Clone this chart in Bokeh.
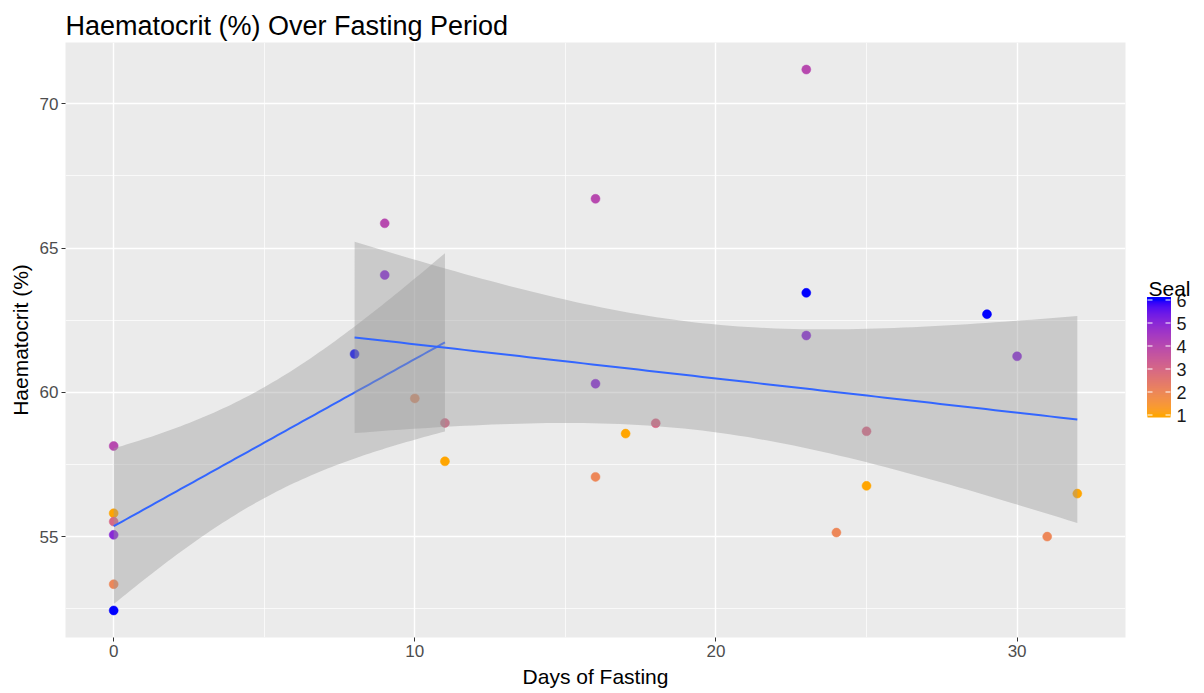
import numpy as np
from bokeh.plotting import figure
from bokeh.layouts import row
from bokeh.models import Range1d, FixedTicker, ColumnDataSource
from bokeh.core.properties import value
from bokeh.embed import file_html
from bokeh.resources import INLINE

# ---------------- data ----------------
days = [0, 0, 0, 0, 0, 0,
        8, 9, 9, 10, 11, 11,
        16, 16, 16, 17, 18,
        23, 23, 23, 24, 25, 25,
        29, 30, 31, 32]
haematocrit = [58.14, 55.81, 55.52, 55.06, 53.35, 52.44,
               61.33, 65.86, 64.07, 59.79, 58.94, 57.61,
               66.71, 60.30, 57.07, 58.57, 58.93,
               71.19, 63.45, 61.97, 55.14, 58.65, 56.76,
               62.71, 61.25, 55.00, 56.49]
seal = [4, 1, 3, 5, 2, 6,
        6, 4, 5, 2, 3, 1,
        4, 5, 2, 1, 3,
        4, 6, 5, 2, 3, 1,
        6, 5, 2, 1]
seal_ticks = [1, 2, 3, 4, 5, 6]
x_ticks = [0, 10, 20, 30]
y_ticks = [55, 60, 65, 70]
title_text = "Haematocrit (%) Over Fasting Period"
x_label = "Days of Fasting"
y_label = "Haematocrit (%)"
legend_title = "Seal"

FONT = "Liberation Sans"

# ---------------- colour scale: orange -> blue in Lab ----------------
def _hex_to_rgb(h):
    h = h.lstrip("#")
    return np.array([int(h[i:i + 2], 16) / 255 for i in (0, 2, 4)])

def _rgb_to_lab(rgb):
    c = np.where(rgb <= 0.04045, rgb / 12.92, ((rgb + 0.055) / 1.055) ** 2.4)
    M = np.array([[0.4124564, 0.3575761, 0.1804375],
                  [0.2126729, 0.7151522, 0.0721750],
                  [0.0193339, 0.1191920, 0.9503041]])
    xyz = M @ c / np.array([0.95047, 1.0, 1.08883])
    f = np.where(xyz > 216 / 24389, np.cbrt(xyz), (24389 / 27 * xyz + 16) / 116)
    return np.array([116 * f[1] - 16, 500 * (f[0] - f[1]), 200 * (f[1] - f[2])])

def _lab_to_hex(lab):
    L, a, b = lab
    fy = (L + 16) / 116
    fx = fy + a / 500
    fz = fy - b / 200
    def finv(t):
        return t ** 3 if t ** 3 > 216 / 24389 else (116 * t - 16) / (24389 / 27)
    xyz = np.array([finv(fx), finv(fy), finv(fz)]) * np.array([0.95047, 1.0, 1.08883])
    Minv = np.array([[3.2404542, -1.5371385, -0.4985314],
                     [-0.9692660, 1.8760108, 0.0415560],
                     [0.0556434, -0.2040259, 1.0572252]])
    c = Minv @ xyz
    c = np.clip(c, 0, 1)
    rgb = np.where(c <= 0.0031308, 12.92 * c, 1.055 * c ** (1 / 2.4) - 0.055)
    rgb = np.clip(np.round(rgb * 255), 0, 255).astype(int)
    return "#%02x%02x%02x" % tuple(rgb)

LOW_LAB = _rgb_to_lab(_hex_to_rgb("#FFA500"))
HIGH_LAB = _rgb_to_lab(_hex_to_rgb("#0000FF"))
SEAL_LO, SEAL_HI = min(seal_ticks), max(seal_ticks)

def seal_colour(v):
    t = (v - SEAL_LO) / (SEAL_HI - SEAL_LO)
    return _lab_to_hex(LOW_LAB + t * (HIGH_LAB - LOW_LAB))

# ---------------- fits ----------------
dx = np.array(days, dtype=float)
hy = np.array(haematocrit, dtype=float)

T_CRIT = {10: 2.228139, 19: 2.093024}

def lm_fit(mask):
    x, y = dx[mask], hy[mask]
    n = len(x)
    b, a = np.polyfit(x, y, 1)
    res = y - (a + b * x)
    s = np.sqrt(np.sum(res ** 2) / (n - 2))
    mx = x.mean()
    sxx = np.sum((x - mx) ** 2)
    xs = np.linspace(x.min(), x.max(), 80)
    fit = a + b * xs
    se = s * np.sqrt(1 / n + (xs - mx) ** 2 / sxx)
    t = T_CRIT[n - 2]
    return xs, fit, fit - t * se, fit + t * se

fits = [lm_fit(dx <= 11), lm_fit(dx > 0)]

all_y = np.concatenate([hy] + [f[2] for f in fits] + [f[3] for f in fits])
ylo, yhi = all_y.min(), all_y.max()
xlo, xhi = dx.min(), dx.max()
xpad = 0.05 * (xhi - xlo)
ypad = 0.05 * (yhi - ylo)

# ---------------- main figure ----------------
W_MAIN, W_LEG, H = 1135, 69, 693
TOP_B, BOT_B = 42, 56
p = figure(width=W_MAIN, height=H, output_backend="svg", toolbar_location=None,
           x_range=Range1d(xlo - xpad, xhi + xpad), y_range=Range1d(ylo - ypad, yhi + ypad),
           min_border_left=65, min_border_right=10, min_border_top=TOP_B, min_border_bottom=BOT_B)

p.background_fill_color = "#EBEBEB"
p.border_fill_color = "white"
p.outline_line_color = None

p.title.text = title_text
p.title.text_font = FONT
p.title.text_font_size = "27px"
p.title.text_font_style = "normal"
p.title.text_color = "black"
p.title.offset = 0
p.title.standoff = 4

p.xaxis.ticker = FixedTicker(ticks=x_ticks, minor_ticks=[-5, 5, 15, 25, 35])
p.yaxis.ticker = FixedTicker(ticks=y_ticks, minor_ticks=[52.5, 57.5, 62.5, 67.5])
for ax in (p.xaxis, p.yaxis):
    ax.axis_line_color = None
    ax.major_tick_line_color = "#333333"
    ax.major_tick_out = 4
    ax.major_tick_in = 0
    ax.minor_tick_line_color = None
    ax.major_label_text_font = FONT
    ax.major_label_text_font_size = "17px"
    ax.major_label_text_color = "#4D4D4D"
    ax.major_label_standoff = 3
    ax.axis_label_text_font = FONT
    ax.axis_label_text_font_size = "21px"
    ax.axis_label_text_font_style = "normal"
    ax.axis_label_text_color = "black"
    ax.axis_label_standoff = 5
p.xaxis.axis_label = x_label
p.yaxis.axis_label = y_label

for g in (p.xgrid, p.ygrid):
    g.grid_line_color = "white"
    g.grid_line_width = 1.4
    g.minor_grid_line_color = "white"
    g.minor_grid_line_width = 0.7

src = ColumnDataSource(dict(x=days, y=haematocrit, c=[seal_colour(s) for s in seal]))
p.scatter("x", "y", source=src, size=9, fill_color="c", line_color="c", line_width=0.5)

for xs, fit, lo, hi in fits:
    p.varea(x=xs, y1=lo, y2=hi, fill_color="#999999", fill_alpha=0.4)
    p.line(xs, fit, line_color="#3366FF", line_width=2)

# ---------------- legend figure: colour bar on a seal-value y scale ----------------
# its frame has the same top/bottom borders as the main figure (rows TOP_B .. H-BOT_B)
FRAME_TOP, FRAME_BOT = TOP_B, H - BOT_B
BAR_BOTTOM_PX, BAR_TOP_PX = 417, 297          # screen rows of the bar ends
TICK1_PX, TICK6_PX = 414.5, 299.5             # screen rows of seal 1 and seal 6
per_px = (SEAL_HI - SEAL_LO) / (TICK1_PX - TICK6_PX)
leg_y_top = SEAL_HI + (TICK6_PX - FRAME_TOP) * per_px
leg_y_bottom = SEAL_LO - (FRAME_BOT - TICK1_PX) * per_px
bar_lo = SEAL_LO - (BAR_BOTTOM_PX - TICK1_PX) * per_px
bar_hi = SEAL_HI + (TICK6_PX - BAR_TOP_PX) * per_px

leg = figure(width=W_LEG, height=H, output_backend="svg", toolbar_location=None,
             x_range=Range1d(0, W_LEG), y_range=Range1d(leg_y_bottom, leg_y_top),
             x_axis_location=None, y_axis_location=None,
             min_border=0, min_border_left=0, min_border_right=0,
             min_border_top=TOP_B, min_border_bottom=BOT_B)
leg.grid.visible = False
leg.outline_line_color = None
leg.background_fill_color = "white"
leg.border_fill_color = "white"

BAR_L, BAR_R = 12, 35
edges = np.linspace(bar_lo, bar_hi, 121)
mids = (edges[:-1] + edges[1:]) / 2
# stacked slices: each runs to the bar top, later ones cover the upper part -> no seams
leg.quad(left=BAR_L, right=BAR_R, bottom=edges[:-1], top=bar_hi,
         fill_color=[seal_colour(min(max(m, SEAL_LO), SEAL_HI)) for m in mids], line_color=None)

tick_y = np.array(seal_ticks, dtype=float)
leg.segment(x0=BAR_L, x1=BAR_L + 5, y0=tick_y, y1=tick_y, line_color="white", line_width=1.2)
leg.segment(x0=BAR_R - 5, x1=BAR_R, y0=tick_y, y1=tick_y, line_color="white", line_width=1.2)
leg.text(x=BAR_R + 6, y=tick_y, text=[str(t) for t in seal_ticks], text_font=value(FONT),
         text_font_size="18px", text_color="#1A1A1A", text_baseline="middle", text_align="left")

title_y = SEAL_HI + (TICK6_PX - 288) * per_px
leg.text(x=[BAR_L + 1], y=[title_y], text=[legend_title], text_font=value(FONT),
         text_font_size="21px", text_color="black", text_baseline="alphabetic",
         text_align="left")

layout = row(p, leg, spacing=0)
open("out.html", "w").write(file_html(layout, INLINE))
